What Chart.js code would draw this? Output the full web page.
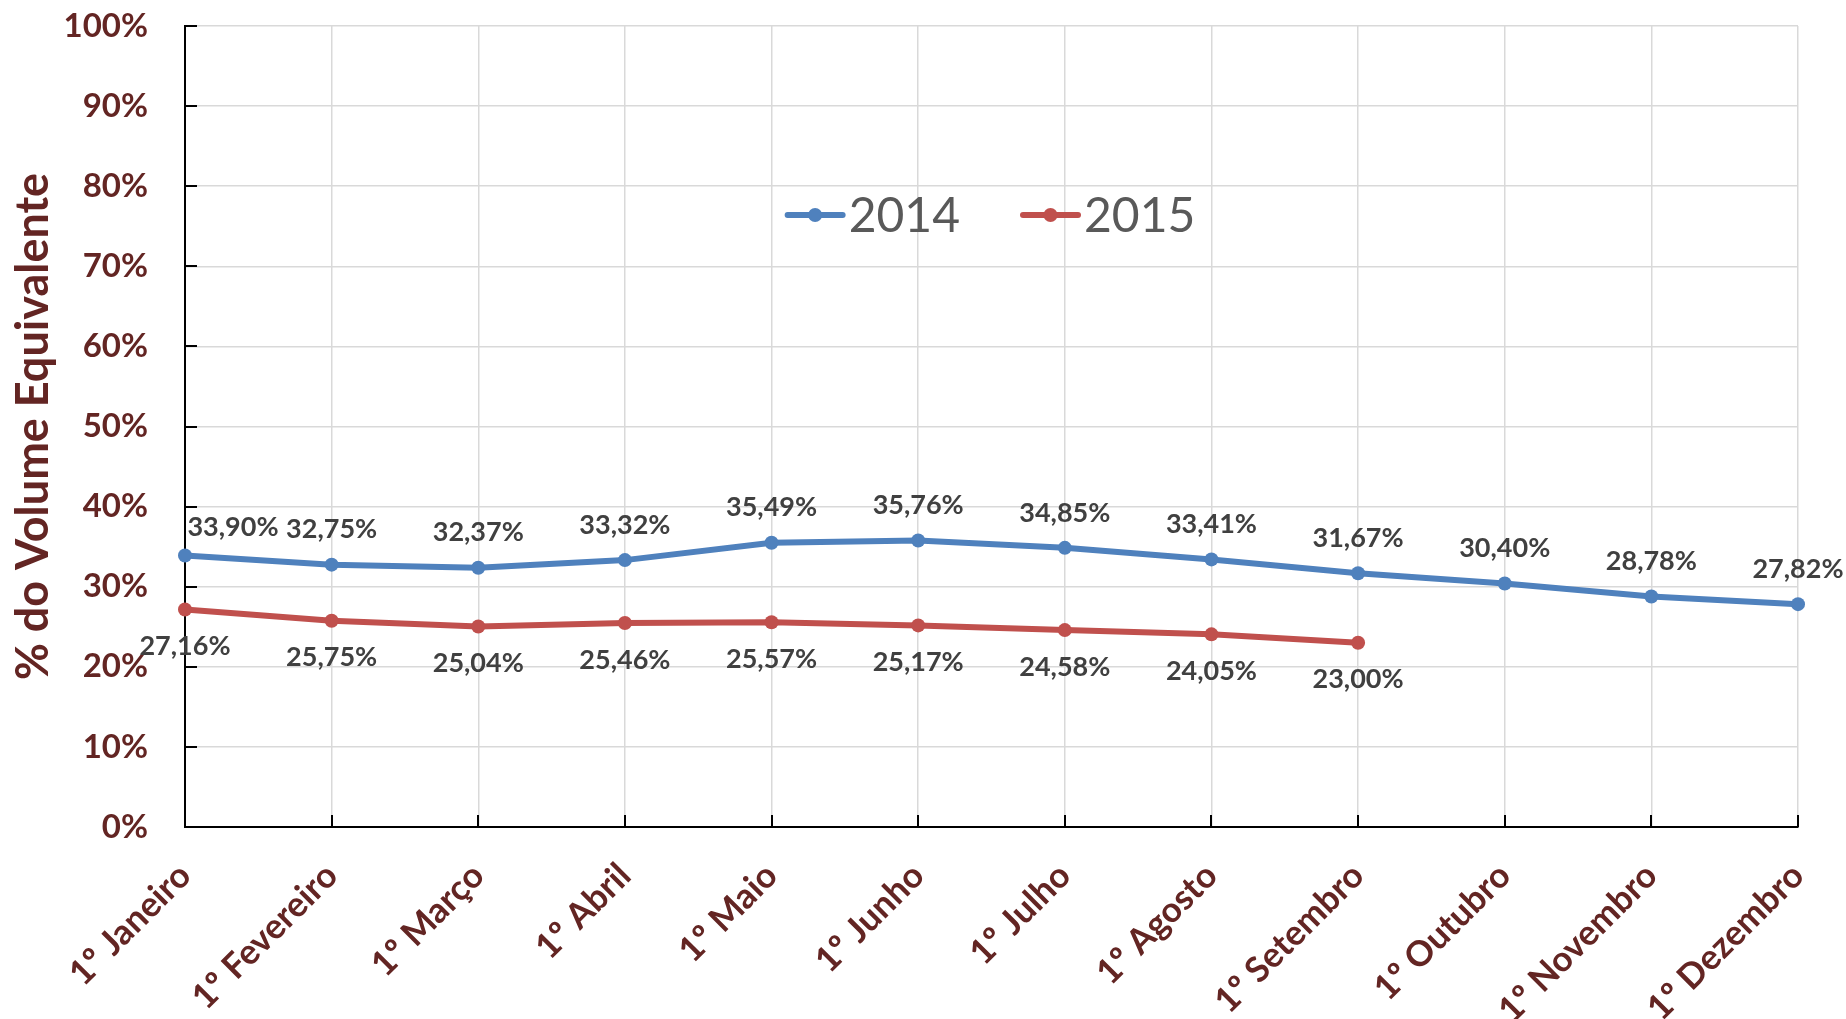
<!DOCTYPE html>
<html><head><meta charset="utf-8">
<script src="https://cdn.jsdelivr.net/npm/chart.js@4.4.0/dist/chart.umd.min.js"></script>
<style>html,body{margin:0;padding:0;background:#fff;}#wrap{width:1846px;height:1019px;position:relative}</style>
</head><body><div id="wrap"><canvas id="c"></canvas></div>
<script>
const categories = ['1º Janeiro','1º Fevereiro','1º Março','1º Abril','1º Maio','1º Junho','1º Julho','1º Agosto','1º Setembro','1º Outubro','1º Novembro','1º Dezembro'];
const values2014 = [33.90,32.75,32.37,33.32,35.49,35.76,34.85,33.41,31.67,30.40,28.78,27.82];
const values2015 = [27.16,25.75,25.04,25.46,25.57,25.17,24.58,24.05,23.00];
const seriesNames = ['2014','2015'];
const yAxisTitle = '% do Volume Equivalente';

const AXIS_RED = '#632523';
const fmt = v => v.toFixed(2).replace('.', ',') + '%';

const labelCfg = {
  font: 'bold 27px Lato',
  color: '#404040',
  dy: [-35, 37],
  special: { ds: 0, index: 0, dx: 48, dy: 7 }
};

const dataLabelsPlugin = {
  id: 'dataLabels',
  afterDatasetsDraw(chart) {
    const ctx = chart.ctx;
    ctx.save();
    ctx.font = labelCfg.font;
    ctx.fillStyle = labelCfg.color;
    ctx.textAlign = 'center';
    ctx.textBaseline = 'middle';
    chart.data.datasets.forEach((ds, di) => {
      const meta = chart.getDatasetMeta(di);
      meta.data.forEach((pt, i) => {
        const v = ds.data[i];
        if (v == null) return;
        let dx = 0, dy = labelCfg.dy[di];
        if (labelCfg.special.ds === di && labelCfg.special.index === i) {
          dx += labelCfg.special.dx; dy += labelCfg.special.dy;
        }
        ctx.fillText(fmt(v), pt.x + dx, pt.y + dy);
      });
    });
    ctx.restore();
  }
};

const innerTicksPlugin = {
  id: 'innerTicks',
  beforeDatasetsDraw(chart) {
    const ctx = chart.ctx, xs = chart.scales.x, ys = chart.scales.y, ca = chart.chartArea;
    const len = 12;
    ctx.save();
    ctx.strokeStyle = '#000';
    ctx.lineWidth = 2;
    ctx.beginPath();
    xs.ticks.forEach((t, i) => {
      const x = Math.round(xs.getPixelForTick(i));
      ctx.moveTo(x, ca.bottom); ctx.lineTo(x, ca.bottom - len);
    });
    ys.ticks.forEach((t, i) => {
      const y = Math.round(ys.getPixelForTick(i));
      ctx.moveTo(ca.left, y); ctx.lineTo(ca.left + len, y);
    });
    ctx.stroke();
    ctx.restore();
  }
};

const legendCfg = { fontSize: 48, lineLen: 55, textGap: 6, itemGap: 63, offsetY: 189 };
const legendPlugin = {
  id: 'customLegend',
  afterDraw(chart) {
    const o = legendCfg;
    const ctx = chart.ctx, ca = chart.chartArea;
    ctx.save();
    ctx.font = o.fontSize + 'px Lato';
    ctx.textBaseline = 'middle';
    const items = chart.data.datasets.map(ds => ({
      text: ds.label, color: ds.borderColor, w: ctx.measureText(ds.label).width
    }));
    let total = 0;
    items.forEach((it, i) => { total += o.lineLen + o.textGap + it.w + (i ? o.itemGap : 0); });
    let x = (ca.left + ca.right) / 2 - total / 2;
    const y = ca.top + o.offsetY;
    items.forEach((it, i) => {
      if (i) x += o.itemGap;
      ctx.strokeStyle = it.color; ctx.lineWidth = 6; ctx.lineCap = 'round';
      ctx.beginPath(); ctx.moveTo(x, y); ctx.lineTo(x + o.lineLen, y); ctx.stroke();
      ctx.fillStyle = it.color;
      ctx.beginPath(); ctx.arc(x + o.lineLen / 2, y, 7, 0, Math.PI * 2); ctx.fill();
      x += o.lineLen + o.textGap;
      ctx.fillStyle = '#595959';
      ctx.fillText(it.text, x, y + 2);
      x += it.w;
    });
    ctx.restore();
  }
};

new Chart(document.getElementById('c'), {
  type: 'line',
  data: {
    labels: categories,
    datasets: [
      { label: seriesNames[0], data: values2014, borderColor: '#4F81BD', backgroundColor: '#4F81BD',
        borderWidth: 6, pointRadius: 7, pointBackgroundColor: '#4F81BD', pointBorderWidth: 0, tension: 0 },
      { label: seriesNames[1], data: values2015, borderColor: '#C0504D', backgroundColor: '#C0504D',
        borderWidth: 6, pointRadius: 7, pointBackgroundColor: '#C0504D', pointBorderWidth: 0, tension: 0 }
    ]
  },
  options: {
    responsive: true, maintainAspectRatio: false, animation: false, devicePixelRatio: 1,
    layout: { padding: { left: 6, top: 26, right: 48, bottom: 0 } },
    plugins: {
      legend: { display: false },
      tooltip: { enabled: false }
    },
    scales: {
      x: {
        offset: false,
        grid: { color: '#D9D9D9', lineWidth: 1.5, drawTicks: false },
        border: { color: '#000', width: 2 },
        ticks: { autoSkip: false, maxRotation: 45, minRotation: 45, padding: 28,
          color: AXIS_RED, font: { family: 'Lato', weight: 'bold', size: 35 } },
        afterFit(s) { s.height = 192; s.paddingLeft = 0; s.paddingRight = 0; }
      },
      y: {
        min: 0, max: 100,
        grid: { color: '#D9D9D9', lineWidth: 1.5, drawTicks: false },
        border: { color: '#000', width: 2 },
        ticks: { stepSize: 10, padding: 37, color: AXIS_RED,
          font: { family: 'Lato', weight: 'bold', size: 33 },
          callback: v => v + '%' },
        title: { display: true, text: yAxisTitle, color: AXIS_RED, padding: { top: 0, bottom: 0 },
          font: { family: 'Lato', weight: 'bold', size: 45 } },
        afterFit(s) { s.width = 179; s.paddingTop = 0; s.paddingBottom = 0; }
      }
    }
  },
  plugins: [dataLabelsPlugin, innerTicksPlugin, legendPlugin]
});
</script></body></html>
